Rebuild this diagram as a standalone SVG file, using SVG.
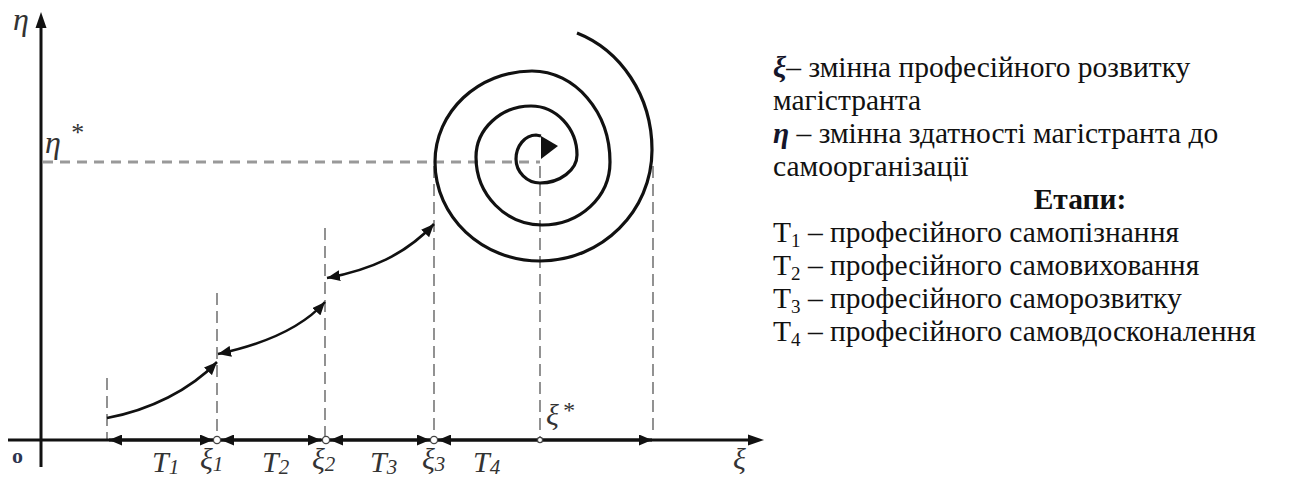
<svg xmlns="http://www.w3.org/2000/svg" width="1291" height="477" viewBox="0 0 1291 477">
<defs>
<style>
.axis{stroke:#111;stroke-width:3;fill:none}
.dash{stroke:#777;stroke-width:1.6;stroke-dasharray:12 6;fill:none}
.dashh{stroke:#999;stroke-width:3;stroke-dasharray:10 7;fill:none}
.conn{stroke:#111;stroke-width:2.6;fill:none}
.spiral{stroke:#111;stroke-width:3.2;fill:none}
.lbl{font-family:"Liberation Serif","Times New Roman",serif;font-style:italic;fill:#333}
.txt{font-family:"Liberation Serif","Times New Roman",serif;font-size:29.5px;fill:#111}
.sym{font-style:italic;font-weight:bold;fill:#15152a}
.pt{fill:#fff;stroke:#444;stroke-width:1.3}
</style>
<marker id="ah" viewBox="0 0 13 11" refX="13" refY="5.5" markerWidth="13" markerHeight="11" markerUnits="userSpaceOnUse" orient="auto-start-reverse"><path d="M0,0 L13,5.5 L0,11 Z" fill="#111"/></marker>
<marker id="ahs" viewBox="0 0 13 11" refX="13" refY="5.5" markerWidth="13" markerHeight="11" markerUnits="userSpaceOnUse" orient="auto-start-reverse"><path d="M0,0 L13,5.5 L0,11 Z" fill="#111"/></marker>
</defs>

<g id="guides">
<line class="dashh" x1="43" y1="162" x2="540" y2="162"/>
<line class="dash" x1="107" y1="378" x2="107" y2="440"/>
<line class="dash" x1="217" y1="293" x2="217" y2="440"/>
<line class="dash" x1="325" y1="228" x2="325" y2="440"/>
<line class="dash" x1="434" y1="166" x2="434" y2="440"/>
<line class="dash" x1="540" y1="166" x2="540" y2="440"/>
<line class="dash" x1="653" y1="166" x2="653" y2="430"/>
</g>

<g id="axes">
<line class="axis" x1="41" y1="467" x2="41" y2="26"/>
<polygon points="41,12 35.5,28 46.5,28" fill="#111"/>
<line class="axis" x1="8" y1="440" x2="750" y2="440"/>
<polygon points="764,440 748,434.5 748,445.5" fill="#111"/>
</g>

<g id="connectors">
<line class="axis" x1="109" y1="440" x2="213" y2="440" marker-start="url(#ah)" marker-end="url(#ah)"/>
<line class="axis" x1="221" y1="440" x2="321" y2="440" marker-start="url(#ah)" marker-end="url(#ah)"/>
<line class="axis" x1="330" y1="440" x2="430" y2="440" marker-start="url(#ah)" marker-end="url(#ah)"/>
<line class="axis" x1="438" y1="440" x2="652" y2="440" marker-start="url(#ah)" marker-end="url(#ah)"/>
<path class="conn" d="M107,418 C150,410 190,390 217,362" marker-end="url(#ahs)"/>
<path class="conn" d="M218,354 C260,345 300,330 325,302" marker-start="url(#ahs)" marker-end="url(#ahs)"/>
<path class="conn" d="M327,278 C370,270 405,255 434,224" marker-start="url(#ahs)" marker-end="url(#ahs)"/>
</g>

<g id="spiral">
<path class="spiral" d="M577,33 C620,50 652,95 652,150 C652,211 602,261 540,261 C482,261 435,217 435,162 C435,112 478,71 532,71 C575,71 610,112 610,162 C610,197 580,225 542,225 C506,225 476,195 476,157 C476,129 501,106 531,106 C556,106 577,128 577,155 C577,170 560,183 540,183 C527,183 516,172 516,159 C516,146 525,135 536,135 L541,136"/>
<polygon points="541,136 558,146 541,159" fill="#111"/>
</g>

<g id="points">
<circle class="pt" cx="217" cy="440" r="3.6"/>
<circle class="pt" cx="326" cy="440" r="3.6"/>
<circle class="pt" cx="434" cy="440" r="3.6"/>
<circle class="pt" cx="540" cy="440" r="2.6"/>
</g>

<g id="labels">
<text class="lbl" x="13" y="30" font-size="32">η</text>
<text class="lbl" x="45" y="153" font-size="32">η</text>
<text class="lbl" x="70" y="141" font-size="26" font-style="normal">*</text>
<text x="12" y="463" font-family="Liberation Serif,serif" font-weight="bold" font-size="22" fill="#2d3550">o</text>
<text class="lbl" x="152" y="472" font-size="30">T<tspan font-size="21" dy="2">1</tspan></text>
<text class="lbl" x="200" y="469" font-size="30">ξ<tspan font-size="21" dy="2">1</tspan></text>
<text class="lbl" x="262" y="472" font-size="30">T<tspan font-size="21" dy="2">2</tspan></text>
<text class="lbl" x="312" y="469" font-size="30">ξ<tspan font-size="21" dy="2">2</tspan></text>
<text class="lbl" x="370" y="472" font-size="30">T<tspan font-size="21" dy="2">3</tspan></text>
<text class="lbl" x="422" y="469" font-size="30">ξ<tspan font-size="21" dy="2">3</tspan></text>
<text class="lbl" x="473" y="472" font-size="30">T<tspan font-size="21" dy="2">4</tspan></text>
<text class="lbl" x="546" y="425" font-size="30">ξ</text>
<text class="lbl" x="562" y="418" font-size="24" font-style="normal">*</text>
<text class="lbl" x="733" y="469" font-size="30">ξ</text>
</g>

<g id="legend">
<text class="txt" x="773" y="77"><tspan class="sym">ξ</tspan>– змінна професійного розвитку</text>
<text class="txt" x="773" y="110">магістранта</text>
<text class="txt" x="773" y="143"><tspan class="sym">η</tspan> – змінна здатності магістранта до</text>
<text class="txt" x="773" y="176">самоорганізації</text>
<text class="txt" x="1080" y="209" text-anchor="middle" font-weight="bold">Етапи:</text>
<text class="txt" x="773" y="242">Т<tspan font-size="19" dy="5">1</tspan><tspan dy="-5"> – професійного самопізнання</tspan></text>
<text class="txt" x="773" y="275">Т<tspan font-size="19" dy="5">2</tspan><tspan dy="-5"> – професійного самовиховання</tspan></text>
<text class="txt" x="773" y="308">Т<tspan font-size="19" dy="5">3</tspan><tspan dy="-5"> – професійного саморозвитку</tspan></text>
<text class="txt" x="773" y="341">Т<tspan font-size="19" dy="5">4</tspan><tspan dy="-5"> – професійного самовдосконалення</tspan></text>
</g>
</svg>
